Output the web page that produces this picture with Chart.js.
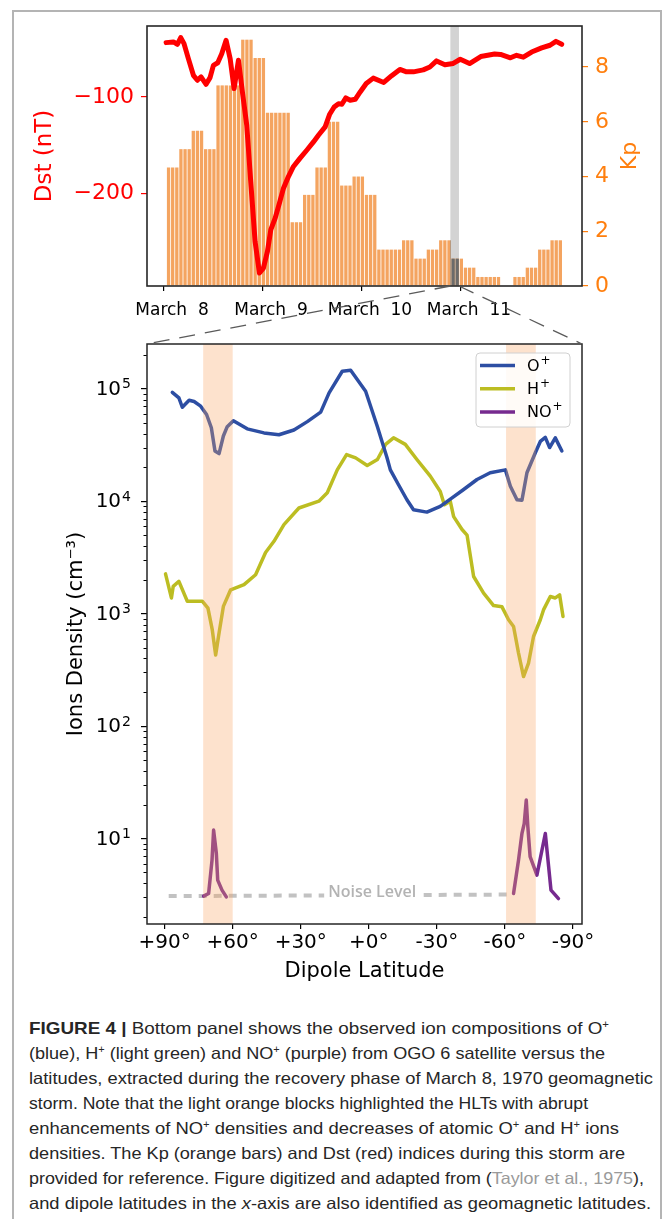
<!DOCTYPE html>
<html lang="en">
<head>
<meta charset="utf-8">
<title>Figure 4</title>
<script src="https://cdn.jsdelivr.net/npm/chart.js@4.4.1/dist/chart.umd.min.js"></script>
<style>
html, body { margin: 0; padding: 0; background: #fff; }
body { position: relative; width: 663px; height: 1219px; overflow: hidden; }
.frame { position: absolute; left: 12px; top: 10px; width: 646px; height: 1260px; border: 2px solid #b4b4b4; border-bottom: 0; }
canvas { position: absolute; left: 0; }
#topChart { top: 0; }
#bottomChart { top: 320px; }
#links { top: 0; pointer-events: none; }
#caption { position: absolute; left: 29px; top: 1016px; font-family: 'Liberation Sans', Arial, sans-serif; font-size: 16.5px; line-height: 25px; color: #262626; }
#caption div { width: max-content; white-space: nowrap; transform-origin: 0 50%; }
#caption sup { font-size: 10px; line-height: 0; vertical-align: 6px; }
#caption .ref { color: #9a9a9a; }
</style>
</head>
<body>
<div class="frame"></div>
<canvas id="topChart" width="663" height="320"></canvas>
<canvas id="bottomChart" width="663" height="670"></canvas>
<canvas id="links" width="663" height="1000"></canvas>
<div id="caption">
<div><b>FIGURE 4 |</b> Bottom panel shows the observed ion compositions of O<sup>+</sup></div>
<div>(blue), H<sup>+</sup> (light green) and NO<sup>+</sup> (purple) from OGO 6 satellite versus the</div>
<div>latitudes, extracted during the recovery phase of March 8, 1970 geomagnetic</div>
<div>storm. Note that the light orange blocks highlighted the HLTs with abrupt</div>
<div>enhancements of NO<sup>+</sup> densities and decreases of atomic O<sup>+</sup> and H<sup>+</sup> ions</div>
<div>densities. The Kp (orange bars) and Dst (red) indices during this storm are</div>
<div>provided for reference. Figure digitized and adapted from (<span class="ref">Taylor et al., 1975</span>),</div>
<div>and dipole latitudes in the <i>x</i>-axis are also identified as geomagnetic latitudes.</div>
</div>
<script>
// ---- top panel: Kp / Dst, days counted from March 8 00 UT ----
const dayTicks = [0, 1, 2, 3];
const dayLabels = ['March  8', 'March  9', 'March  10', 'March  11'];
const dstTicks = [-100, -200];
const kpTicks = [0, 2, 4, 6, 8];

const kpStart = 0.025;
const kpValues = [4.33, 5, 5.67, 5, 7.33, 7.33, 9, 8.33, 6.33, 6.33, 2.33, 3.33, 4.33, 6, 3.67, 4,
  3.33, 1.33, 1.33, 1.67, 1, 1.33, 1.67, 1, 0.67, 0.33, 0.33, 0, 0.33, 0.67, 1.33, 1.67];

const dstDays = [0.021, 0.095, 0.135, 0.169, 0.202, 0.246, 0.297, 0.337, 0.374, 0.425, 0.465, 0.499,
  0.543, 0.583, 0.627, 0.668, 0.708, 0.752, 0.792, 0.836, 0.876, 0.920, 0.964, 1.004, 1.045, 1.079,
  1.123, 1.166, 1.207, 1.257, 1.308, 1.375, 1.442, 1.510, 1.560, 1.628, 1.672, 1.719, 1.763, 1.797,
  1.837, 1.881, 1.932, 1.982, 2.043, 2.114, 2.22, 2.30, 2.383, 2.45, 2.52, 2.619, 2.686, 2.753, 2.838,
  2.922, 2.993, 3.087, 3.20, 3.34, 3.40, 3.50, 3.562, 3.63, 3.714, 3.815, 3.90, 3.96, 4.018];
const dstValues = [-43.8, -43.1, -45.5, -38.6, -44.8, -60.3, -77.6, -82.7, -79.3, -86.9, -80, -67.3,
  -64.6, -55.3, -41.4, -60.3, -91.3, -62, -94.8, -129.4, -187.4, -249.4, -282.1, -277, -259.7, -237.3,
  -225.3, -209.8, -194.3, -182.3, -171.9, -163.3, -155.1, -146.5, -139.6, -131, -118.2, -110.3, -106.9, -107.5,
  -101, -103.4, -102.4, -94.8, -86.1, -80.5, -85, -78, -71.5, -74, -74, -72, -69, -62.7, -66.7,
  -65.3, -61, -65.4, -58.2, -55.6, -56, -59.5, -56.9, -58.8, -53.5, -49.2, -46.5, -42.5, -45.5];

const stormWindow = [2.893, 2.98];

// ---- bottom panel: OGO 6 ion densities vs dipole latitude ----
const latTicks = [90, 60, 30, 0, -30, -60, -90];
const densityTicks = [10, 100, 1000, 10000, 100000];

const oLat = [86.6, 83.7, 82.2, 79.2, 77.0, 74.1, 71.5, 69.4, 67.8, 66.0, 64.1, 62.4, 59.7, 53.6, 46.2,
  39.6, 33.0, 27.1, 21.2, 17.5, 11.7, 8.0, 1.4, -3.8, -8.0, -9.5, -13.1, -16.8, -19.7, -25.6,
  -31.5, -36.7, -41.8, -47.7, -53.5, -60.2, -62.4, -65.3, -67.5, -69.7, -73.4, -75.6, -77.8, -79.7, -82.2, -85.1];
const oDen = [9.3e4, 8.3e4, 6.85e4, 7.9e4, 7.7e4, 7.0e4, 5.9e4, 4.5e4, 2.8e4, 2.65e4, 3.8e4, 4.6e4, 5.2e4, 4.4e4, 4.05e4,
  3.9e4, 4.3e4, 5.1e4, 6.2e4, 9.2e4, 1.43e5, 1.46e5, 9.5e4, 4.6e4, 2.45e4, 1.9e4, 1.4e4, 1.03e4, 8.4e3, 8.0e3,
  9.0e3, 1.07e4, 1.27e4, 1.56e4, 1.79e4, 1.9e4, 1.36e4, 1.03e4, 1.02e4, 1.79e4, 2.7e4, 3.4e4, 3.7e4, 3.0e4, 3.66e4, 2.8e4];

const hLat = [89.6, 87.0, 86.2, 83.7, 80.0, 73.4, 70.9, 69.0, 67.5, 66.0, 64.1, 60.9, 55.0, 49.9, 45.5,
  41.8, 37.4, 30.8, 22.0, 18.3, 13.9, 9.8, 5.8, 0.7, -3.8, -7.4, -10.9, -16.1, -21.2, -27.1,
  -31.5, -33.3, -35.9, -37.4, -41.1, -43.3, -46.2, -50.6, -55.0, -58.7, -61.6, -63.8, -66.0, -68.2, -70.4,
  -72.6, -75.6, -77.0, -80.0, -82.2, -84.1, -85.6];
const hDen = [2.26e3, 1.38e3, 1.75e3, 1.94e3, 1.29e3, 1.29e3, 1.12e3, 720, 430, 672, 1.16e3, 1.63e3, 1.81e3, 2.22e3, 3.5e3,
  4.4e3, 6.2e3, 8.7e3, 1.0e4, 1.19e4, 1.9e4, 2.6e4, 2.43e4, 2.08e4, 2.35e4, 3.2e4, 3.66e4, 3.2e4, 2.35e4, 1.67e4,
  1.22e4, 9.3e3, 1.0e4, 7.3e3, 5.6e3, 5.0e3, 2.14e3, 1.52e3, 1.18e3, 1.15e3, 883, 769, 446, 276, 363,
  627, 883, 1.08e3, 1.42e3, 1.38e3, 1.47e3, 944];

// null in the middle splits the two NO+ segments
const noLat = [72.8, 70.6, 69.1, 68.4, 67.2, 66.6, 64.7, 62.8, 0, -63.8, -66.0, -67.5, -68.5, -69.4, -70.1,
  -71.1, -74.1, -77.8, -80.3, -83.6];
const noDen = [3.08, 3.25, 6.44, 11.9, 7.4, 4.27, 3.48, 3.03, null, 3.25, 6.44, 11.1, 13.6, 22, 12.7,
  6.9, 4.73, 11.1, 3.48, 2.93];

const noiseLat = [88.2, -63.8];
const noiseDen = [3.08, 3.18];
const noiseLabelLat = -1.5;

const hltBlocks = [[73, 60], [-60.5, -73.6]];

// ---------------------------------------------------------------
Chart.defaults.font.family = "'DejaVu Sans', sans-serif";
Chart.defaults.color = '#000';
Chart.defaults.animation = false;
Chart.defaults.responsive = false;
Chart.defaults.plugins.legend.display = false;
Chart.defaults.plugins.tooltip.enabled = false;

const fixedTicks = values => scale => { scale.ticks = values.map(v => ({ value: v })); };
const toPoints = (xs, ys) => xs.map((x, i) => ({ x: x, y: ys[i] }));

// text with a raised, smaller tail (10^5, O^+), drawn right- or left-anchored
function drawSup(ctx, base, sup, x, y, size, supSize, rise, anchor) {
  ctx.font = size + "px 'DejaVu Sans'";
  const wb = ctx.measureText(base).width;
  ctx.font = supSize + "px 'DejaVu Sans'";
  const ws = ctx.measureText(sup).width;
  const x0 = anchor === 'right' ? x - wb - ws - 1 : x;
  ctx.textAlign = 'left';
  ctx.textBaseline = 'middle';
  ctx.font = size + "px 'DejaVu Sans'";
  ctx.fillText(base, x0, y);
  ctx.font = supSize + "px 'DejaVu Sans'";
  ctx.fillText(sup, x0 + wb + 1, y - rise);
}

const kpBars = [];
kpValues.forEach((v, i) => {
  for (let h = 0; h < 3; h++) kpBars.push({ x: kpStart + (3 * i + h + 0.5) / 24, y: v });
});

const topDecor = {
  id: 'topDecor',
  beforeDatasetsDraw(chart) {
    const { ctx, chartArea: a, scales: { x } } = chart;
    const x0 = x.getPixelForValue(stormWindow[0]);
    const x1 = x.getPixelForValue(stormWindow[1]);
    ctx.save();
    ctx.fillStyle = '#d3d3d3';
    ctx.fillRect(x0, a.top, x1 - x0, a.height);
    ctx.restore();
  },
  afterDatasetDraw(chart, args) {
    if (args.index !== 0) return;
    // bars inside the satellite pass window are greyed
    const { ctx, chartArea: a, scales: { x } } = chart;
    const x0 = x.getPixelForValue(stormWindow[0]);
    const x1 = x.getPixelForValue(stormWindow[1]);
    ctx.save();
    ctx.beginPath();
    ctx.rect(x0, a.top, x1 - x0, a.height);
    ctx.clip();
    ctx.fillStyle = '#6b6b6b';
    args.meta.data.forEach(bar => {
      const p = bar.getProps(['x', 'y', 'base', 'width'], true);
      ctx.fillRect(p.x - p.width / 2, p.y, p.width, p.base - p.y);
    });
    ctx.restore();
  },
  afterDraw(chart) {
    const { ctx, chartArea: a, scales: { kp } } = chart;
    ctx.save();
    ctx.strokeStyle = '#262626';
    ctx.lineWidth = 1.6;
    ctx.strokeRect(a.left, a.top, a.width, a.height);
    ctx.translate(kp.right - 33, (a.top + a.bottom) / 2);
    ctx.rotate(-Math.PI / 2);
    ctx.fillStyle = '#ff7f0e';
    ctx.font = "22px 'DejaVu Sans'";
    ctx.textAlign = 'center';
    ctx.textBaseline = 'middle';
    ctx.fillText('Kp', 0, 0);
    ctx.restore();
  }
};

const topChart = new Chart(document.getElementById('topChart'), {
  type: 'bar',
  data: {
    datasets: [{
      type: 'bar',
      label: 'Kp',
      data: kpBars,
      yAxisID: 'kp',
      order: 1,
      backgroundColor: '#f4a460',
      barPercentage: 0.8,
      categoryPercentage: 1,
      borderWidth: 0
    }, {
      type: 'line',
      label: 'Dst',
      data: toPoints(dstDays, dstValues),
      yAxisID: 'dst',
      order: 0,
      borderColor: '#ff0000',
      borderWidth: 5,
      pointRadius: 0,
      tension: 0,
      borderJoinStyle: 'round',
      borderCapStyle: 'round'
    }]
  },
  options: {
    layout: { padding: { top: 26, left: 0, right: 0, bottom: 0 } },
    scales: {
      x: {
        type: 'linear',
        offset: false,
        min: -0.172,
        max: 4.223,
        afterBuildTicks: fixedTicks(dayTicks),
        afterFit: s => { s.height = 34; },
        ticks: {
          callback: v => dayLabels[dayTicks.indexOf(v)],
          font: { size: 17 },
          color: '#000',
          padding: 9,
          labelOffset: 8,
          maxRotation: 0,
          autoSkip: false
        },
        grid: { display: true, drawOnChartArea: false, offset: false, tickLength: 5, color: '#000', lineWidth: 1.2 },
        border: { display: false }
      },
      dst: {
        axis: 'y',
        type: 'linear',
        position: 'left',
        min: -295.5,
        max: -26.6,
        afterBuildTicks: fixedTicks(dstTicks),
        afterFit: s => { s.width = 147; },
        ticks: { callback: v => '\u2212' + Math.abs(v), color: '#ff0000', font: { size: 22 }, padding: 7 },
        grid: { display: true, drawOnChartArea: false, tickLength: 6, color: '#ff0000', lineWidth: 1.2 },
        border: { display: false },
        title: { display: true, text: 'Dst (nT)', color: '#ff0000', font: { size: 23 }, padding: { top: 31 } }
      },
      kp: {
        axis: 'y',
        type: 'linear',
        position: 'right',
        min: 0,
        max: 9.5,
        afterBuildTicks: fixedTicks(kpTicks),
        afterFit: s => { s.width = 81; },
        ticks: { color: '#ff7f0e', font: { size: 22 }, padding: 7 },
        grid: { display: true, drawOnChartArea: false, tickLength: 6, color: '#ff7f0e', lineWidth: 1.2 },
        border: { display: false }
      }
    }
  },
  plugins: [topDecor]
});

const bottomDecor = {
  id: 'bottomDecor',
  afterDatasetsDraw(chart) {
    const { ctx, chartArea: a, scales: { x, y } } = chart;
    ctx.save();
    // HLT blocks laid over the curves
    ctx.fillStyle = 'rgba(250, 165, 100, 0.32)';
    hltBlocks.forEach(([l0, l1]) => {
      const p0 = x.getPixelForValue(l0);
      const p1 = x.getPixelForValue(l1);
      ctx.fillRect(Math.min(p0, p1), a.top, Math.abs(p1 - p0), a.height);
    });
    // noise level label sits on the dashed line
    const nx = x.getPixelForValue(noiseLabelLat);
    const ny = y.getPixelForValue(noiseDen[0]) - 4;
    ctx.font = "600 16px 'Open Sans'";
    const w = ctx.measureText('Noise Level').width;
    ctx.fillStyle = '#fff';
    ctx.fillRect(nx - w / 2 - 4, ny - 9, w + 8, 18);
    ctx.fillStyle = '#b3b3b3';
    ctx.textAlign = 'center';
    ctx.textBaseline = 'middle';
    ctx.fillText('Noise Level', nx, ny);
    ctx.restore();
  },
  afterDraw(chart) {
    const { ctx, chartArea: a, scales: { y } } = chart;
    ctx.save();
    // minor log ticks
    ctx.strokeStyle = '#000';
    ctx.lineWidth = 1;
    for (let e = 0; e <= 5; e++) {
      for (let m = 2; m <= 9; m++) {
        const v = m * Math.pow(10, e);
        if (v < y.min || v > y.max) continue;
        const py = Math.round(y.getPixelForValue(v)) + 0.5;
        ctx.beginPath();
        ctx.moveTo(a.left - 3.5, py);
        ctx.lineTo(a.left, py);
        ctx.stroke();
      }
    }
    // decade labels 10^n
    ctx.fillStyle = '#000';
    densityTicks.forEach(v => {
      const py = y.getPixelForValue(v);
      drawSup(ctx, '10', String(Math.round(Math.log10(v))), a.left - 16, py + 1, 20, 14, 5, 'right');
    });

    ctx.strokeStyle = '#262626';
    ctx.lineWidth = 1.5;
    ctx.strokeRect(a.left, a.top, a.width, a.height);

    // legend box
    const lw = 94, lh = 74;
    const lx = a.right - 12 - lw, ly = a.top + 9;
    ctx.beginPath();
    ctx.roundRect(lx, ly, lw, lh, 4);
    ctx.fillStyle = 'rgba(255, 255, 255, 0.85)';
    ctx.fill();
    ctx.strokeStyle = '#d0d0d0';
    ctx.lineWidth = 1;
    ctx.stroke();
    chart.data.datasets.slice(0, 3).forEach((ds, i) => {
      const yy = ly + 12.5 + i * 23.3;
      ctx.strokeStyle = ds.borderColor;
      ctx.lineWidth = 3.5;
      ctx.beginPath();
      ctx.moveTo(lx + 4, yy);
      ctx.lineTo(lx + 39, yy);
      ctx.stroke();
      ctx.fillStyle = '#000';
      drawSup(ctx, ds.label.replace('⁺', ''), '+', lx + 51, yy + 1, 16, 12, 6, 'left');
    });
    ctx.restore();
  }
};

const ionLine = {
  borderWidth: 3.5,
  pointRadius: 0,
  tension: 0,
  borderJoinStyle: 'round',
  borderCapStyle: 'round',
  spanGaps: false
};

const bottomChart = new Chart(document.getElementById('bottomChart'), {
  type: 'line',
  data: {
    datasets: [
      Object.assign({ label: 'O⁺', data: toPoints(oLat, oDen), borderColor: '#2d4ea3' }, ionLine),
      Object.assign({ label: 'H⁺', data: toPoints(hLat, hDen), borderColor: '#bcbd22' }, ionLine),
      Object.assign({ label: 'NO⁺', data: toPoints(noLat, noDen), borderColor: '#762a8f' }, ionLine),
      {
        label: 'Noise Level',
        data: toPoints(noiseLat, noiseDen),
        borderColor: '#c2c2c2',
        borderWidth: 4,
        borderDash: [8, 7],
        pointRadius: 0
      }
    ]
  },
  options: {
    layout: { padding: { top: 24, left: 0, right: 81, bottom: 0 } },
    scales: {
      x: {
        type: 'linear',
        reverse: true,
        min: -93.97,
        max: 97.76,
        afterBuildTicks: fixedTicks(latTicks),
        afterFit: s => { s.height = 66; },
        ticks: {
          callback: v => (v < 0 ? '-' : '+') + Math.abs(v) + '°',
          font: { size: 20 },
          padding: 2,
          maxRotation: 0,
          autoSkip: false
        },
        grid: { display: true, drawOnChartArea: false, tickLength: 5, color: '#000', lineWidth: 1.2 },
        border: { display: false },
        title: { display: true, text: 'Dipole Latitude', font: { size: 21 }, padding: { bottom: 6 } }
      },
      y: {
        type: 'logarithmic',
        min: 1.74,
        max: 2.5e5,
        afterBuildTicks: fixedTicks(densityTicks),
        afterFit: s => { s.width = 147; },
        // labels drawn by bottomDecor so the exponent can be a true superscript
        ticks: { callback: () => '', font: { size: 20 }, padding: 9 },
        grid: { display: true, drawOnChartArea: false, tickLength: 6, color: '#000', lineWidth: 1.2 },
        border: { display: false },
        title: { display: true, text: 'Ions Density (cm⁻³)', font: { size: 21 }, padding: { top: 64 } }
      }
    }
  },
  plugins: [bottomDecor]
});

// zoom connectors from the grey pass window down to the lower panel
(function drawLinks() {
  const ctx = document.getElementById('links').getContext('2d');
  const tx = topChart.scales.x;
  const x0 = tx.getPixelForValue(stormWindow[0]);
  const x1 = tx.getPixelForValue(stormWindow[1]);
  const y0 = topChart.chartArea.bottom;
  const b = bottomChart.chartArea;
  const y1 = b.top + 320;
  ctx.strokeStyle = '#5a5a5a';
  ctx.lineWidth = 1.3;
  ctx.setLineDash([16, 10]);
  ctx.beginPath();
  ctx.moveTo(x0, y0);
  ctx.lineTo(b.left, y1);
  ctx.stroke();
  ctx.beginPath();
  ctx.moveTo(x1, y0);
  ctx.lineTo(b.right, y1);
  ctx.stroke();
})();

// caption lines were justified in the source; stretch each to its measured width
const captionWidths = [580, 576, 624, 559, 590, 596, 615, 622];
document.querySelectorAll('#caption > div').forEach((line, i) => {
  const w = line.getBoundingClientRect().width;
  line.style.transform = 'scaleX(' + (captionWidths[i] / w).toFixed(4) + ')';
});
</script>
</body>
</html>
